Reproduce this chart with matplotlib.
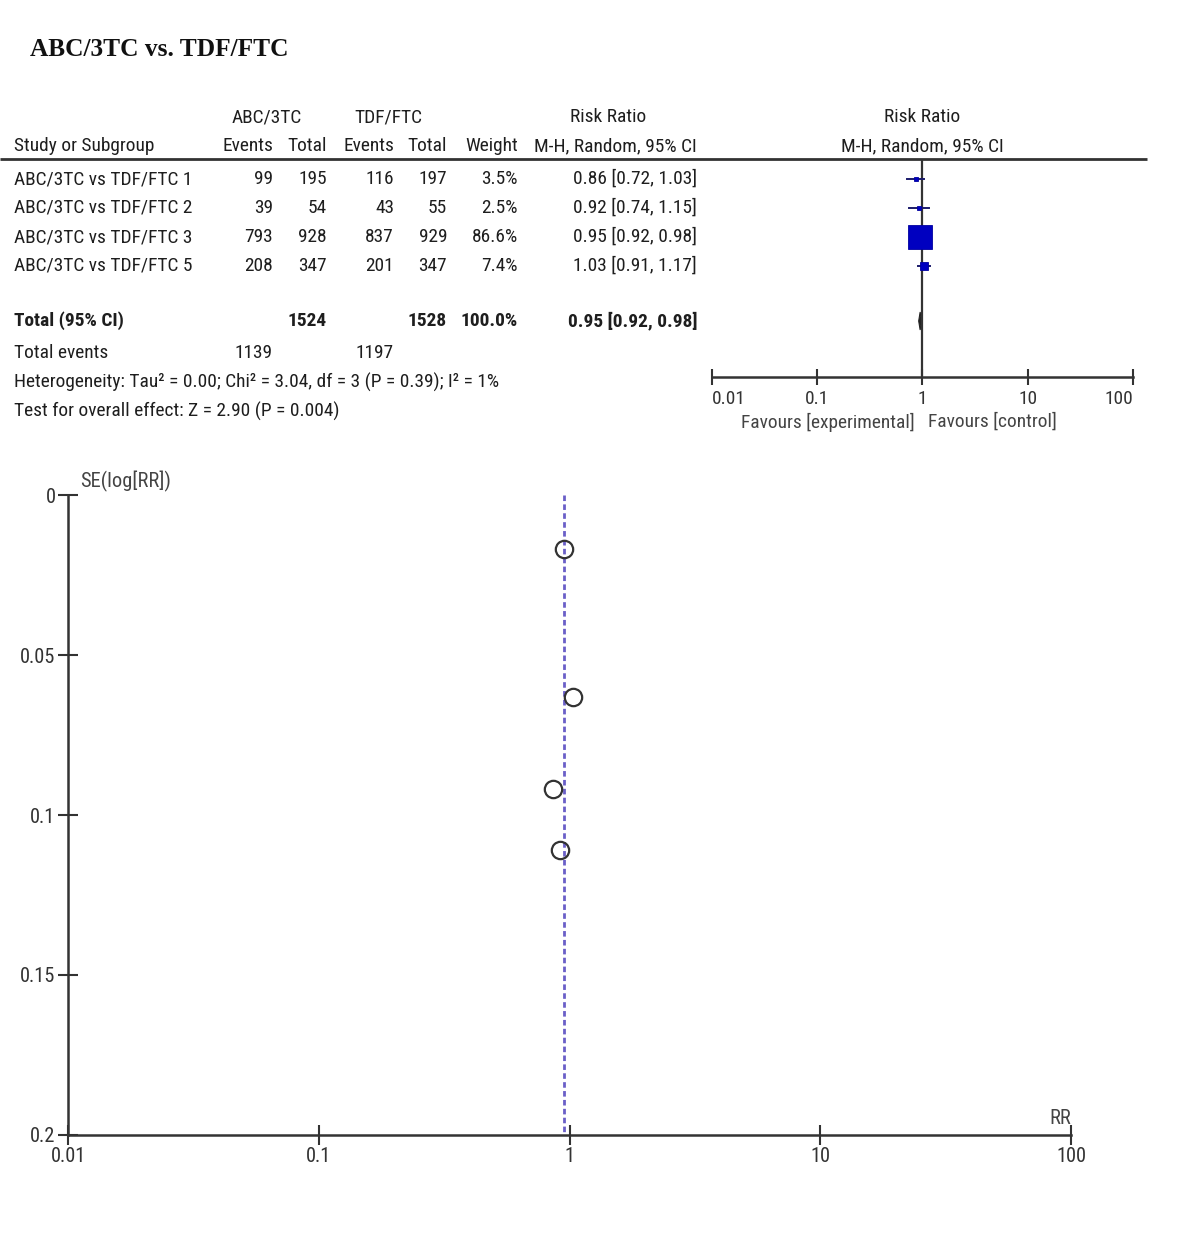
import matplotlib
matplotlib.use("Agg")
import matplotlib.pyplot as plt
from matplotlib import font_manager
from matplotlib.patches import Polygon
import numpy as np

# ---------------- data ----------------
studies = ["ABC/3TC vs TDF/FTC 1", "ABC/3TC vs TDF/FTC 2",
           "ABC/3TC vs TDF/FTC 3", "ABC/3TC vs TDF/FTC 5"]
abc_events = [99, 39, 793, 208]
abc_total = [195, 54, 928, 347]
tdf_events = [116, 43, 837, 201]
tdf_total = [197, 55, 929, 347]
weights = [3.5, 2.5, 86.6, 7.4]
rr = [0.86, 0.92, 0.95, 1.03]
ci_low = [0.72, 0.74, 0.92, 0.91]
ci_high = [1.03, 1.15, 0.98, 1.17]
total_abc, total_tdf = 1524, 1528
total_events_abc, total_events_tdf = 1139, 1197
pooled_rr, pooled_low, pooled_high = 0.95, 0.92, 0.98
se_log_rr = [0.092, 0.111, 0.017, 0.063]   # funnel plot y values
forest_ticks = [0.01, 0.1, 1, 10, 100]
forest_ticklabels = ["0.01", "0.1", "1", "10", "100"]
funnel_yticks = [0, 0.05, 0.1, 0.15, 0.2]
funnel_yticklabels = ["0", "0.05", "0.1", "0.15", "0.2"]

W, H = 1181, 1239
fig = plt.figure(figsize=(W / 100, H / 100), dpi=100)
renderer = fig.canvas.get_renderer()

# ---- choose a narrow sans font if one is installed ----
names = {f.name for f in font_manager.fontManager.ttflist}
STRETCH = "normal"
NARROW = ["Liberation Sans", "DejaVu Sans"]
for cand in ["Liberation Sans Narrow", "Arial Narrow", "Roboto Condensed",
             "Open Sans Condensed", "Noto Sans Condensed"]:
    if cand in names:
        NARROW = [cand, "Liberation Sans", "DejaVu Sans"]
        break

def fit_size(text, family, target_px, weight="normal", base=20.0):
    tt = fig.text(0, 0, text, fontsize=base, family=family, fontweight=weight)
    w = tt.get_window_extent(renderer).width
    tt.remove()
    return base * target_px / w

FS = fit_size("ABC/3TC vs TDF/FTC 1", NARROW, 179)
TITLE_FAM = ["Liberation Serif", "DejaVu Serif"]
TITLE_FS = fit_size("ABC/3TC vs. TDF/FTC", TITLE_FAM, 258, weight="bold")
TXT = "#1e1e1e"

# ---------------- text layer (pixel coordinates) ----------------
tax = fig.add_axes([0, 0, 1, 1])
tax.set_xlim(0, W)
tax.set_ylim(H, 0)
tax.axis("off")

def t(x, y, s, ha="left", **kw):
    kw.setdefault("fontsize", FS)
    kw.setdefault("family", NARROW)
    kw.setdefault("color", TXT)
    tax.text(x, y, s, ha=ha, va="center", **kw)

tax.text(30, 50, "ABC/3TC vs. TDF/FTC", ha="left", va="center",
         fontsize=TITLE_FS, fontweight="bold", family=TITLE_FAM, color="#111111")

# headers
t(267, 117, "ABC/3TC", ha="center")
t(388, 117, "TDF/FTC", ha="center")
t(608, 117, "Risk Ratio", ha="center")
t(922, 117, "Risk Ratio", ha="center")
t(14, 146, "Study or Subgroup")
t(273, 146, "Events", ha="right")
t(327, 146, "Total", ha="right")
t(394, 146, "Events", ha="right")
t(447, 146, "Total", ha="right")
t(518, 146, "Weight", ha="right")
t(697, 146, "M-H, Random, 95% CI", ha="right")
t(922, 146, "M-H, Random, 95% CI", ha="center")
tax.plot([0, 1147], [159, 159], color="#333333", lw=2, solid_capstyle="butt")

row_y = [179, 208, 237, 266]
for i, y in enumerate(row_y):
    t(14, y, studies[i])
    t(273, y, str(abc_events[i]), ha="right")
    t(327, y, str(abc_total[i]), ha="right")
    t(394, y, str(tdf_events[i]), ha="right")
    t(447, y, str(tdf_total[i]), ha="right")
    t(518, y, f"{weights[i]:.1f}%", ha="right")
    t(697, y, f"{rr[i]:.2f} [{ci_low[i]:.2f}, {ci_high[i]:.2f}]", ha="right")

t(14, 321, "Total (95% CI)", fontweight="bold")
t(327, 321, str(total_abc), ha="right", fontweight="bold")
t(447, 321, str(total_tdf), ha="right", fontweight="bold")
t(518, 321, "100.0%", ha="right", fontweight="bold")
t(697, 321, f"{pooled_rr:.2f} [{pooled_low:.2f}, {pooled_high:.2f}]", ha="right", fontweight="bold")
t(14, 353, "Total events")
t(273, 353, str(total_events_abc), ha="right")
t(394, 353, str(total_events_tdf), ha="right")
t(14, 382, "Heterogeneity: Tau² = 0.00; Chi² = 3.04, df = 3 (P = 0.39); I² = 1%")
t(14, 411, "Test for overall effect: Z = 2.90 (P = 0.004)")

# ---------------- forest plot ----------------
fy0, fy1 = 160, 377
fax = fig.add_axes([712 / W, 1 - fy1 / H, (1133 - 712) / W, (fy1 - fy0) / H])
fax.set_xscale("log")
fax.set_xlim(0.01, 100)
fax.set_ylim(fy1, fy0)
fax.patch.set_alpha(0)
for s in ["top", "right", "left"]:
    fax.spines[s].set_visible(False)
fax.spines["bottom"].set_linewidth(1.8)
fax.spines["bottom"].set_color("#333333")
fax.set_yticks([])
fax.set_xticks(forest_ticks)
fax.set_xticklabels(forest_ticklabels, fontsize=FS, family=NARROW, color="#333333")
labs = fax.get_xticklabels()
labs[0].set_ha("left")
labs[-1].set_ha("right")
fax.xaxis.set_minor_locator(matplotlib.ticker.NullLocator())
fax.tick_params(axis="x", direction="inout", length=12, width=1.5, color="#333333", pad=3)
fax.axvline(1, color="#333333", lw=1.6)
for i, y in enumerate(row_y):
    fax.plot([ci_low[i], ci_high[i]], [y, y], color="#1a1a6a", lw=1.4)
    side = 24 * np.sqrt(weights[i] / max(weights))
    side = max(side, 4.5)
    fax.plot([rr[i]], [y], marker="s", ms=side / 1.389, color="#0000c0",
             mec="#0000a0", mew=0.6, ls="none")
dy = 9
dia = Polygon([[pooled_low, 321], [pooled_rr, 321 - dy], [pooled_high, 321], [pooled_rr, 321 + dy]],
              closed=True, facecolor="#222222", edgecolor="#222222", lw=0.8)
fax.add_patch(dia)
tax.text(828, 422, "Favours [experimental]", ha="center", va="center", fontsize=FS,
         family=NARROW, color="#444444")
tax.text(992, 422, "Favours [control]", ha="center", va="center", fontsize=FS,
         family=NARROW, color="#444444")

# ---------------- funnel plot ----------------
gx0, gx1, gy0, gy1 = 68, 1071, 495, 1135
gax = fig.add_axes([gx0 / W, 1 - gy1 / H, (gx1 - gx0) / W, (gy1 - gy0) / H])
gax.set_xscale("log")
gax.set_xlim(0.01, 100)
gax.set_ylim(0.2, 0)
gax.patch.set_alpha(0)
for s in ["top", "right"]:
    gax.spines[s].set_visible(False)
for s in ["left", "bottom"]:
    gax.spines[s].set_linewidth(1.8)
    gax.spines[s].set_color("#333333")
gax.set_xticks(forest_ticks)
gax.set_xticklabels(forest_ticklabels, fontsize=FS * 1.05, family=NARROW, color="#333333")
gax.xaxis.set_minor_locator(matplotlib.ticker.NullLocator())
gax.set_yticks(funnel_yticks)
gax.set_yticklabels(funnel_yticklabels, fontsize=FS * 1.05, family=NARROW, color="#333333")
gax.tick_params(axis="both", direction="inout", length=14, width=1.5, color="#333333", pad=2)
gax.plot([pooled_rr, pooled_rr], [0, 0.2], color="#6a5fc8", lw=2, ls=(0, (2, 1.2)))
gax.plot(rr, se_log_rr, ls="none", marker="o", ms=12.5, mfc="none", mec="#333333", mew=1.6)
tax.text(80, 481, "SE(log[RR])", ha="left", va="center", fontsize=FS * 1.05, family=NARROW, color="#444444")
tax.text(1071, 1118, "RR", ha="right", va="center", fontsize=FS * 1.05, family=NARROW, color="#444444")

fig.savefig("out.png", dpi=100)
